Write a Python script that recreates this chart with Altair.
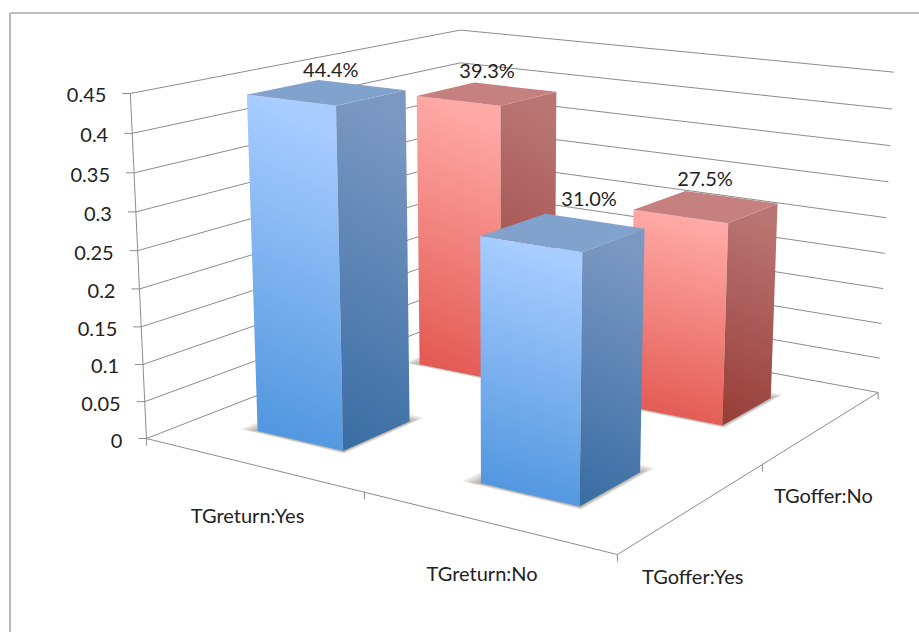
import altair as alt
import numpy as np
import pandas as pd

# Chart values
return_groups = ["TGreturn:Yes", "TGreturn:No"]
offer_groups = ["TGoffer:Yes", "TGoffer:No"]
bar_return = [0, 0, 1, 1]
bar_offer = [1, 0, 1, 0]
bar_values = [0.393, 0.444, 0.275, 0.310]
bar_labels = ["39.3%", "44.4%", "27.5%", "31.0%"]
bar_families = ["red", "blue", "red", "blue"]
y_ticks = [0, 0.05, 0.1, 0.15, 0.2, 0.25, 0.3, 0.35, 0.4, 0.45]
y_tick_labels = ["0", "0.05", "0.1", "0.15", "0.2", "0.25", "0.3", "0.35", "0.4", "0.45"]

WIDTH, HEIGHT = 919, 632
Y_MAX = 0.45
RETURN_CENTRES = [0.24, 0.74]
OFFER_CENTRES = [0.245, 0.75]
BAR_HALF = 0.1
LABEL_SHIFT = [(0, -22), (4, -21), (-1, -27), (26, -32)]

# Camera calibration: box and column corners as (return, offer, height) -> canvas position
box_pairs = [
    ((0, 0, 0), (145, 437)), ((1, 0, 0), (612, 556)), ((1, 1, 0), (877, 394)),
    ((0, 0, 1), (129, 94)), ((0, 1, 1), (455, 31)), ((1, 1, 1), (892, 70)),
]
column_pairs = [
    ((0.14, 0.145, 0.987), (250, 96)), ((0.34, 0.145, 0.987), (339, 106)),
    ((0.34, 0.345, 0.987), (408, 91)), ((0.14, 0.345, 0.987), (320, 81)),
    ((0.14, 0.145, 0), (260, 431)), ((0.34, 0.145, 0), (347, 450)), ((0.34, 0.345, 0), (412, 419)),
    ((0.64, 0.145, 0.689), (483, 236)), ((0.84, 0.145, 0.689), (585, 250)),
    ((0.84, 0.345, 0.689), (647, 228)), ((0.64, 0.345, 0.689), (547, 214)),
    ((0.64, 0.145, 0), (483, 483)), ((0.84, 0.145, 0), (582, 506)), ((0.84, 0.345, 0), (644, 472)),
    ((0.14, 0.65, 0.873), (418, 96)), ((0.34, 0.65, 0.873), (503, 106)),
    ((0.34, 0.85, 0.873), (558, 92)), ((0.14, 0.85, 0.873), (477, 84)), ((0.14, 0.65, 0), (422, 363)),
    ((0.64, 0.65, 0.611), (636, 210)), ((0.84, 0.65, 0.611), (731, 222)),
    ((0.84, 0.85, 0.611), (780, 204)), ((0.64, 0.85, 0.611), (690, 192)),
    ((0.84, 0.65, 0), (726, 425)), ((0.84, 0.85, 0), (774, 398)),
]
# The box corners count several times so the axes stay where they belong
camera_pairs = box_pairs * 4 + column_pairs


def fit_camera():
    # Linear solve, reweighted a few times so the error is measured in canvas units
    weights = np.ones(len(camera_pairs))
    matrix = None
    for _ in range(8):
        rows = []
        for weight, ((a, b, c), (px, py)) in zip(weights, camera_pairs):
            rows.append(np.array([a, b, c, 1, 0, 0, 0, 0, -px * a, -px * b, -px * c, -px]) * weight)
            rows.append(np.array([0, 0, 0, 0, a, b, c, 1, -py * a, -py * b, -py * c, -py]) * weight)
        matrix = np.linalg.svd(np.array(rows, float))[2][-1].reshape(3, 4)
        weights = np.array([1 / abs(matrix[2] @ np.array([*w, 1.0])) for w, _ in camera_pairs])
        weights = weights / weights.mean()
    return matrix


CAMERA = fit_camera()


def project(u, v, z):
    h = CAMERA @ np.array([u, v, z, 1.0])
    return float(h[0] / h[2]), float(h[1] / h[2])


def polygon_rows(points, key):
    """Turn a convex outline into x / y / y2 rows for an area mark."""
    rows = []
    n = len(points)
    for x in sorted({p[0] for p in points}):
        ys = []
        for i in range(n):
            (x0, y0), (x1, y1) = points[i], points[(i + 1) % n]
            if min(x0, x1) <= x <= max(x0, x1):
                if x0 == x1:
                    ys += [y0, y1]
                else:
                    ys.append(y0 + (y1 - y0) * (x - x0) / (x1 - x0))
        rows.append({"x": x, "y": min(ys), "y2": max(ys), "key": key})
    return rows


X = alt.X("x:Q", scale=alt.Scale(domain=[0, WIDTH], range=[0, WIDTH]), axis=None)
Y = alt.Y("y:Q", scale=alt.Scale(domain=[0, HEIGHT], range=[0, HEIGHT]), axis=None)


def area_layer(rows, **mark):
    return alt.Chart(pd.DataFrame(rows)).mark_area(interpolate="linear", **mark).encode(
        x=X, y=Y, y2=alt.Y2("y2:Q"), detail="key:N"
    )


def gradient(top, bottom, tilt=0.0):
    return alt.Gradient(
        gradient="linear",
        x1=tilt, x2=0, y1=0, y2=1,
        stops=[alt.GradientStop(color=top, offset=0), alt.GradientStop(color=bottom, offset=1)],
    )


PALETTE = {
    "blue": {"front": ("#a9cdff", "#4a92dc"), "side": ("#7b98c2", "#386ca3"), "top": "#81a2cd"},
    "red": {"front": ("#ffa9a6", "#e1544d"), "side": ("#b97573", "#973c37"), "top": "#c6807f"},
}

# Frame, grid lines on both walls, axis lines and ticks
segments = [
    (10, 13, WIDTH, 13, "#aaaaaa", 1.6),
    (10, 13, 10, HEIGHT, "#aaaaaa", 1.6),
]
GRID = "#8c8c8c"
for tick in y_ticks:
    z = tick / Y_MAX
    left, back, right = project(0, 0, z), project(0, 1, z), project(1, 1, z)
    segments.append((*left, *back, GRID, 1))
    segments.append((*back, *right, GRID, 1))
    segments.append((left[0] - 8, left[1], *left, GRID, 1))
segments.append((*project(0, 0, 0), *project(0, 0, 1), GRID, 1))
segments.append((*project(0, 0, 0), *project(1, 0, 0), GRID, 1))
segments.append((*project(1, 0, 0), *project(1, 1, 0), GRID, 1))
for u, v in [(0, 0), (0.5, 0), (1, 0), (1, 0.5), (1, 1)]:
    px, py = project(u, v, 0)
    segments.append((px, py, px, py + 7, GRID, 1))

frame = pd.DataFrame(segments, columns=["x", "y", "x2", "y2", "stroke", "size"])
lines = alt.Chart(frame).mark_rule().encode(
    x=X, y=Y, x2="x2:Q", y2="y2:Q",
    color=alt.Color("stroke:N", scale=None),
    strokeWidth=alt.StrokeWidth("size:Q", scale=None),
)

layers = [lines]

# Bars are painted back to front so the nearer ones cover the farther ones
for r, o, value, family in zip(bar_return, bar_offer, bar_values, bar_families):
    u0, u1 = RETURN_CENTRES[r] - BAR_HALF, RETURN_CENTRES[r] + BAR_HALF
    v0, v1 = OFFER_CENTRES[o] - BAR_HALF, OFFER_CENTRES[o] + BAR_HALF
    z = value / Y_MAX
    colours = PALETTE[family]

    shadow_rows = []
    for step, grow in enumerate([0.008, 0.016, 0.024, 0.032]):
        outline = [
            project(u0 - grow, v0 - grow * 0.3, 0), project(u1 + grow * 0.3, v0 - grow * 0.3, 0),
            project(u1 + grow * 0.3, v1 + grow, 0), project(u0 - grow, v1 + grow, 0),
        ]
        shadow_rows += polygon_rows(outline, f"s{step}")
    layers.append(area_layer(shadow_rows, color="#6b5d50", opacity=0.14))

    front = [project(u0, v0, z), project(u1, v0, z), project(u1, v0, 0), project(u0, v0, 0)]
    side = [project(u1, v0, z), project(u1, v1, z), project(u1, v1, 0), project(u1, v0, 0)]
    top = [project(u0, v0, z), project(u1, v0, z), project(u1, v1, z), project(u0, v1, z)]
    layers.append(area_layer(polygon_rows(front, "front"), color=gradient(*colours["front"], 0.12)))
    layers.append(area_layer(polygon_rows(side, "side"), color=gradient(*colours["side"], 0.12)))
    layers.append(area_layer(polygon_rows(top, "top"), color=colours["top"]))

# Texts
text_rows = []
for tick, label in zip(y_ticks, y_tick_labels):
    px, py = project(0, 0, tick / Y_MAX)
    text_rows.append({"x": px - 24, "y": py + 3, "text": label, "align": "right"})
for i, label in enumerate(return_groups):
    px, py = project(RETURN_CENTRES[i] + 0.01, 0, 0)
    text_rows.append({"x": px - 4, "y": py + 53, "text": label, "align": "center"})
for i, label in enumerate(offer_groups):
    px, py = project(1, OFFER_CENTRES[i], 0)
    text_rows.append({"x": px, "y": py + 70, "text": label, "align": "center"})
for r, o, value, label, shift in zip(bar_return, bar_offer, bar_values, bar_labels, LABEL_SHIFT):
    px, py = project(RETURN_CENTRES[r], OFFER_CENTRES[o], value / Y_MAX)
    text_rows.append({"x": px + shift[0], "y": py + shift[1], "text": label, "align": "center"})

text_frame = pd.DataFrame(text_rows)
for alignment in ["right", "center"]:
    layers.append(
        alt.Chart(text_frame[text_frame["align"] == alignment])
        .mark_text(font="Lato", fontSize=20, color="#222222", align=alignment, baseline="middle")
        .encode(x=X, y=Y, text="text:N")
    )

chart = (
    alt.layer(*layers)
    .properties(width=WIDTH, height=HEIGHT, padding=0, autosize=alt.AutoSizeParams(type="none"))
    .configure_view(stroke=None)
)
chart.save("out.html", embed_options={"renderer": "svg", "actions": False})
